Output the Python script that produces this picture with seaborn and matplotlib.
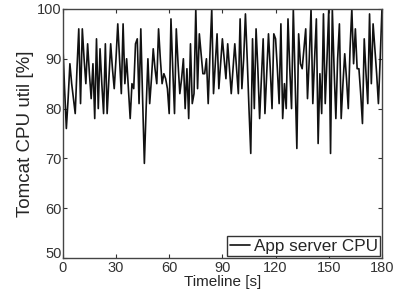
import numpy as np
import pandas as pd
import matplotlib
matplotlib.use('Agg')
import matplotlib.pyplot as plt
from matplotlib.transforms import ScaledTranslation
import seaborn as sns

# CPU utilisation, one sample per second
seconds = list(range(0, 181))
cpu_util = [
    93, 84, 76, 82, 89, 85, 82, 79, 88, 96,
    81, 96, 90, 85, 93, 87, 82, 89, 78, 94,
    80, 92, 85, 79, 93, 79, 86, 93, 88, 84,
    90, 97, 90, 83, 97, 85, 90, 84, 78, 85,
    84, 93, 94, 81, 96, 82, 69, 80, 90, 81,
    86, 92, 88, 85, 96, 90, 85, 87, 86, 84,
    79, 98, 88, 79, 96, 89, 83, 86, 90, 80,
    88, 78, 93, 81, 83, 100, 84, 95, 91, 87,
    87, 90, 81, 91, 100, 83, 89, 95, 84, 89,
    94, 90, 86, 93, 88, 83, 88, 93, 88, 83,
    98, 84, 90, 99, 90, 80, 71, 94, 80, 96,
    88, 78, 86, 94, 79, 87, 95, 88, 80, 95,
    94, 88, 81, 97, 78, 85, 80, 98, 88, 80,
    100, 86, 72, 95, 89, 88, 92, 96, 82, 90,
    100, 81, 90, 98, 73, 87, 79, 99, 81, 90,
    100, 71, 100, 88, 78, 90, 97, 78, 85, 91,
    86, 80, 92, 100, 89, 96, 88, 88, 83, 77,
    94, 87, 81, 99, 85, 97, 92, 87, 81, 90,
    100,
]
series_name = 'App server CPU'
x_ticks = [0, 30, 60, 90, 120, 150, 180]
y_ticks = [50, 60, 70, 80, 90, 100]

df = pd.DataFrame({'t': seconds, 'cpu': cpu_util})

sns.set_style('ticks')
plt.rcParams['font.family'] = ['Liberation Sans', 'DejaVu Sans']

fig = plt.figure(figsize=(3.95, 2.97), dpi=100)
ax = fig.add_axes([0.159, 0.131, 0.808, 0.839])
sns.lineplot(data=df, x='t', y='cpu', ax=ax, color='#111111', linewidth=1.2,
             label=series_name)

ax.set_xlim(0, 180)
ax.set_ylim(50, 100)
ax.set_xticks(x_ticks)
ax.set_yticks(y_ticks)
ax.tick_params(direction='in', top=True, right=True, length=3, width=0.8,
               labelsize=10.5, pad=1, colors='#333333')
ax.tick_params(axis='x', pad=2)
for s in ax.spines.values():
    s.set_visible(True)
    s.set_color('#444444')
    s.set_linewidth(1.0)

# lift the lowest y label a little so it clears the "0" below it
lab50 = ax.get_yticklabels()[0]
lab50.set_transform(lab50.get_transform() + ScaledTranslation(0, 4 / 72, fig.dpi_scale_trans))

ax.set_xlabel('Timeline [s]', fontsize=11, labelpad=0)
ax.set_ylabel('Tomcat CPU util [%]', fontsize=13.5, labelpad=2)
leg = ax.legend(loc='lower right', fontsize=12.3, handlelength=1.2,
                handletextpad=0.2, borderpad=0.15, borderaxespad=0.1,
                fancybox=False, framealpha=1)
leg.get_frame().set_edgecolor('#333333')
leg.get_frame().set_linewidth(1.0)

fig.savefig('out.png', dpi=100)
